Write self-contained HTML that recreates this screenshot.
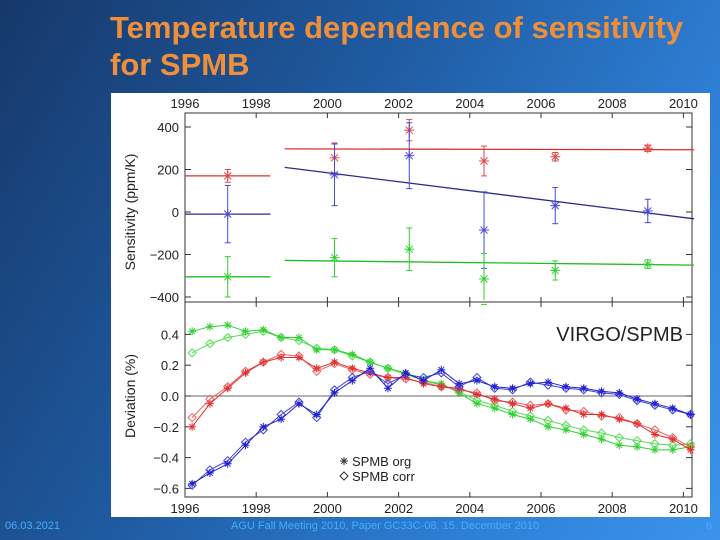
<!DOCTYPE html>
<html><head><meta charset="utf-8"><style>
html,body{margin:0;padding:0}
body{width:720px;height:540px;overflow:hidden;position:relative;font-family:"Liberation Sans",sans-serif;
background:linear-gradient(120deg,#16386a 0%,#1f5aa0 40%,#2e7fd6 75%,#3b93ea 100%)}
.title{position:absolute;left:110px;top:9px;color:#ef8f3a;font-weight:bold;font-size:31px;line-height:37px}
.foot{position:absolute;top:520px;font-size:11px;color:#3fb0ff}
svg{position:absolute;left:0;top:0}
</style></head><body>
<div class="title">Temperature dependence of sensitivity<br>for SPMB</div>
<div class="foot" style="left:5px">06.03.2021</div>
<div class="foot" style="left:231px">AGU Fall Meeting 2010, Paper GC33C-08, 15. December 2010</div>
<div class="foot" style="left:706px">6</div>
<svg id="chart" width="720" height="540"></svg>
<script>
// ---- Top panel data ----
const topYears=[1997.2,2000.2,2002.3,2004.4,2006.4,2009.0];
const topRed=[170,255,385,240,260,300];
const topRedErr=[30,70,50,70,20,15];
const topBlue=[-10,175,265,-85,30,5];
const topBlueErr=[135,145,155,180,85,55];
const topGreen=[-305,-215,-175,-315,-275,-245];
const topGreenErr=[95,90,100,120,45,20];
const fitRed=[[1996,170,1998.4,170],[1998.8,297,2010.3,293]];
const fitBlue=[[1996,-10,1998.4,-10],[1998.8,210,2010.3,-32]];
const fitGreen=[[1996,-305,1998.4,-305],[1998.8,-228,2010.3,-250]];
const topTicks=[400,200,0,-200,-400];
const yearTicks=[1996,1998,2000,2002,2004,2006,2008,2010];
// ---- Bottom panel data ----
const devYears=[1996.2,1996.7,1997.2,1997.7,1998.2,1998.7,1999.2,1999.7,2000.2,2000.7,2001.2,2001.7,2002.2,2002.7,2003.2,2003.7,2004.2,2004.7,2005.2,2005.7,2006.2,2006.7,2007.2,2007.7,2008.2,2008.7,2009.2,2009.7,2010.2];
const blueOrg=[-0.57,-0.50,-0.44,-0.32,-0.20,-0.15,-0.05,-0.12,0.02,0.10,0.18,0.05,0.15,0.10,0.17,0.08,0.10,0.06,0.05,0.08,0.09,0.06,0.05,0.03,0.02,-0.02,-0.05,-0.08,-0.12];
const blueCorr=[-0.58,-0.48,-0.42,-0.30,-0.22,-0.12,-0.04,-0.14,0.04,0.12,0.16,0.08,0.14,0.12,0.15,0.06,0.12,0.05,0.04,0.09,0.07,0.05,0.04,0.02,0.01,-0.03,-0.06,-0.09,-0.12];
const redOrg=[-0.20,-0.05,0.05,0.15,0.22,0.25,0.25,0.18,0.22,0.18,0.15,0.12,0.12,0.08,0.06,0.05,0.01,-0.02,-0.05,-0.08,-0.05,-0.08,-0.12,-0.12,-0.15,-0.18,-0.25,-0.28,-0.35];
const redCorr=[-0.14,-0.02,0.06,0.16,0.22,0.27,0.26,0.16,0.21,0.17,0.14,0.12,0.11,0.09,0.06,0.04,0.02,-0.03,-0.04,-0.06,-0.05,-0.09,-0.10,-0.13,-0.14,-0.18,-0.22,-0.27,-0.33];
const greenOrg=[0.42,0.45,0.46,0.42,0.43,0.38,0.38,0.30,0.30,0.27,0.22,0.18,0.15,0.10,0.08,0.02,-0.05,-0.08,-0.12,-0.15,-0.20,-0.22,-0.25,-0.28,-0.32,-0.33,-0.35,-0.35,-0.33];
const greenCorr=[0.28,0.34,0.38,0.40,0.42,0.38,0.36,0.31,0.30,0.26,0.22,0.18,0.14,0.10,0.07,0.03,-0.03,-0.06,-0.10,-0.13,-0.16,-0.19,-0.22,-0.24,-0.27,-0.29,-0.31,-0.32,-0.31];
const devTicks=[0.4,0.2,0.0,-0.2,-0.4,-0.6];
const devLabels=["0.4","0.2","0.0","\u22120.2","\u22120.4","\u22120.6"];

const svg=document.getElementById('chart');
const NS='http://www.w3.org/2000/svg';
function mk(tag,attrs,parent){const e=document.createElementNS(NS,tag);for(const k in attrs)e.setAttribute(k,attrs[k]);(parent||svg).appendChild(e);return e;}
const X=y=>185+(y-1996)*35.6;
const YT=v=>212-v*0.2125;
const YB=v=>396-v*154;
const L=185,R=692;

let bg=mk('rect',{x:111,y:93,width:599,height:424,fill:'#fff'});



let f1=mk('rect',{x:L,y:113,width:R-L,height:189,fill:'none',stroke:'#333','stroke-width':1});


let f2=mk('rect',{x:L,y:302,width:R-L,height:195,fill:'none',stroke:'#333','stroke-width':1});


mk('line',{x1:L,x2:R,y1:YB(0),y2:YB(0),stroke:'#666','stroke-width':1});

function txt(x,y,s,opts,name){const t=mk('text',Object.assign({x:x,y:y,'font-size':13,fill:'#222','font-family':'Liberation Sans, sans-serif'},opts||{}));t.textContent=s;

return t;}
yearTicks.forEach(yr=>{
  txt(X(yr),108,String(yr),{'text-anchor':'middle'},'top-x-tick-label');
  txt(X(yr),513,String(yr),{'text-anchor':'middle'},'bottom-x-tick-label');
  mk('line',{x1:X(yr),x2:X(yr),y1:113,y2:118,stroke:'#333'});
  mk('line',{x1:X(yr),x2:X(yr),y1:497,y2:492,stroke:'#333'});
  mk('line',{x1:X(yr),x2:X(yr),y1:302,y2:297,stroke:'#333'});
  mk('line',{x1:X(yr),x2:X(yr),y1:302,y2:307,stroke:'#333'});
});
topTicks.forEach(v=>{
  txt(179,YT(v)+5,v<0?'\u2212'+(-v):String(v),{'text-anchor':'end'},'top-y-tick-label');
  mk('line',{x1:L,x2:L+6,y1:YT(v),y2:YT(v),stroke:'#333'});
  mk('line',{x1:R,x2:R-6,y1:YT(v),y2:YT(v),stroke:'#333'});
});
devTicks.forEach((v,i)=>{
  txt(179,YB(v)+5,devLabels[i],{'text-anchor':'end'},'bottom-y-tick-label');
  mk('line',{x1:L,x2:L+6,y1:YB(v),y2:YB(v),stroke:'#333'});
  mk('line',{x1:R,x2:R-6,y1:YB(v),y2:YB(v),stroke:'#333'});
});
txt(0,0,'Sensitivity (ppm/K)',{transform:'translate(135,212) rotate(-90)','text-anchor':'middle','font-size':14},'top-y-axis-title');
txt(0,0,'Deviation (%)',{transform:'translate(135,396) rotate(-90)','text-anchor':'middle','font-size':14},'bottom-y-axis-title');
txt(683,341,'VIRGO/SPMB',{'text-anchor':'end','font-size':20},'panel-label');

function star(x,y,c,s,name){const g=mk('g',{stroke:c,'stroke-width':1,fill:'none'});


mk('line',{x1:x-s,x2:x+s,y1:y,y2:y},g);mk('line',{x1:x,x2:x,y1:y-s,y2:y+s},g);
mk('line',{x1:x-s*.7,x2:x+s*.7,y1:y-s*.7,y2:y+s*.7},g);mk('line',{x1:x-s*.7,x2:x+s*.7,y1:y+s*.7,y2:y-s*.7},g);return g;}
function diamond(x,y,c,s,name){const p=mk('path',{d:`M${x} ${y-s}L${x+s} ${y}L${x} ${y+s}L${x-s} ${y}Z`,fill:'none',stroke:c,'stroke-width':1});

}

function topSeries(vals,errs,fits,c,lc,name){
  fits.forEach(f=>{const l=mk('line',{x1:X(f[0]),y1:YT(f[1]),x2:X(f[2]),y2:YT(f[3]),stroke:lc,'stroke-width':1.3});
  
  });
  vals.forEach((v,i)=>{const x=X(topYears[i]);
    const e=mk('line',{x1:x,x2:x,y1:Math.min(YT(v-errs[i]),300),y2:YT(v+errs[i]),stroke:c,'stroke-width':1});
    
    
    mk('line',{x1:x-3,x2:x+3,y1:YT(v+errs[i]),y2:YT(v+errs[i]),stroke:c});
    mk('line',{x1:x-3,x2:x+3,y1:YT(v-errs[i]),y2:YT(v-errs[i]),stroke:c});
    star(x,YT(v),c,5,name+'-point');});
}
topSeries(topRed,topRedErr,fitRed,'#e04848','#d83030','red-sensitivity');
topSeries(topBlue,topBlueErr,fitBlue,'#4848e0','#2a2a90','blue-sensitivity');
topSeries(topGreen,topGreenErr,fitGreen,'#30d030','#22bb22','green-sensitivity');

function devSeries(vals,c,marker,name){
  const pts=vals.map((v,i)=>X(devYears[i]).toFixed(1)+','+YB(v).toFixed(1)).join(' ');
  const pl=mk('polyline',{points:pts,fill:'none',stroke:c,'stroke-width':1});
  
  
  vals.forEach((v,i)=>{marker==='s'?star(X(devYears[i]),YB(v),c,4,name+'-marker'):diamond(X(devYears[i]),YB(v),c,4,name+'-marker');});
}
devSeries(greenCorr,'#50e050','d','green-corr');
devSeries(greenOrg,'#30d030','s','green-org');
devSeries(redCorr,'#f06060','d','red-corr');
devSeries(redOrg,'#e03030','s','red-org');
devSeries(blueCorr,'#4040e0','d','blue-corr');
devSeries(blueOrg,'#2020d0','s','blue-org');

star(344,461,'#333',4,'legend-org-marker');
txt(352,466,'SPMB org',{'font-size':13},'legend-org-label');
diamond(344,476,'#333',4,'legend-corr-marker');
txt(352,481,'SPMB corr',{'font-size':13},'legend-corr-label');
</script>
</body></html>
